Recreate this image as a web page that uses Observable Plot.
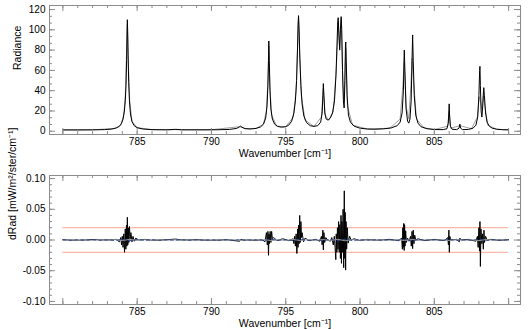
<!DOCTYPE html>
<html>
<head>
<meta charset="utf-8">
<script src="https://cdn.jsdelivr.net/npm/d3@7"></script>
<script src="https://cdn.jsdelivr.net/npm/@observablehq/plot@0.6"></script>
<style>
  html, body { margin: 0; padding: 0; background: #fff; }
  #wrap { position: relative; width: 529px; height: 330px; overflow: hidden; }
  #wrap > div, #wrap > svg { position: absolute; left: 0; }
</style>
</head>
<body>
<div id="wrap"></div>
<script>
// ---------- data: top panel (radiance spectrum, black) ----------
const radWn = [780.0,781.0,782.0,782.8,783.3,783.6,783.8,783.95,784.05,784.14,784.2,784.25,784.29,784.32,784.34,784.36,784.39,784.43,784.48,784.55,784.65,784.8,785.0,785.4,786.0,787.0,787.6,788.0,788.5,789.5,790.5,791.2,791.7,791.9,791.96,792.05,792.25,792.6,793.0,793.3,793.5,793.65,793.74,793.8,793.84,793.86,793.89,793.94,794.0,794.1,794.25,794.45,794.7,795.0,795.2,795.4,795.55,795.65,795.73,795.79,795.83,795.86,795.9,795.95,796.02,796.1,796.22,796.4,796.65,796.9,797.15,797.35,797.45,797.5,797.53,797.57,797.63,797.72,797.85,798.0,798.15,798.28,798.38,798.45,798.5,798.53,798.58,798.63,798.68,798.73,798.77,798.82,798.88,798.93,798.98,799.02,799.04,799.07,799.13,799.22,799.35,799.6,800.0,800.5,801.0,801.6,802.1,802.5,802.7,802.83,802.92,802.96,802.98,803.02,803.1,803.2,803.28,803.36,803.44,803.5,803.54,803.58,803.65,803.75,803.9,804.1,804.5,805.0,805.6,805.85,805.94,805.98,806.0,806.03,806.08,806.2,806.5,806.66,806.72,806.77,806.9,807.3,807.6,807.8,807.92,808.0,808.05,808.07,808.1,808.15,808.2,808.26,808.31,808.33,808.37,808.45,808.55,808.7,808.9,809.2,809.6,810.0];
const radVal = [1.3,1.3,1.4,1.6,2.2,3.3,4.8,7.8,12,20,30,45,70,98,110,100,75,48,30,17,9.5,5.5,3.5,2.2,1.6,1.4,1.9,1.4,1.4,1.4,1.5,1.8,2.8,4.5,5.0,4.0,2.6,2.2,2.8,4.2,7,13,25,45,70,89,70,40,22,12,7,4.8,4.0,4.5,6,10,18,30,50,80,105,114,100,72,45,27,15,8.5,5.5,4.8,5.5,9,18,35,47,35,18,12,11,13,18,30,55,85,108,112,95,80,100,113,100,60,30,23,50,85,88,70,35,16,9,5,3.0,2.2,2.0,2.4,3.3,5.5,9,18,40,70,80,60,22,10,8,12,30,70,95,70,35,16,8,4.5,2.5,1.7,1.6,2.5,8,20,27,15,5,2.0,1.6,3,7,3,1.6,1.8,3,6,14,35,60,64,45,20,14,25,40,43,35,18,9,5,3,2,1.5,1.4];

// ---------- top panel (second spectrum, gray) ----------
const refWn = [780,782,783.5,783.9,784.1,784.2,784.28,784.34,784.4,784.5,784.65,785,786,790,791.9,792.3,793,793.5,793.7,793.8,793.86,793.93,794.05,794.4,795,795.5,795.7,795.8,795.86,795.93,796.05,796.3,796.9,797.4,797.53,797.65,797.9,798.2,798.4,798.53,798.63,798.73,798.85,798.93,799.04,799.15,799.5,800.5,802,802.7,802.88,802.98,803.1,803.28,803.42,803.5,803.6,803.8,804.3,805,805.9,806.0,806.1,806.72,807.5,807.9,808.02,808.12,808.2,808.3,808.4,808.6,809.2,810];
const refVal = [1.3,1.4,2.8,6,16,35,75,106,70,30,10,3.5,1.6,1.5,4.5,2.6,2.8,7,20,50,84,45,16,5,4.5,14,40,85,112,80,35,11,4.8,14,42,16,11,20,60,108,82,110,45,28,82,25,6,2.2,3,12,45,68,25,12,45,72,50,12,3.5,1.7,5,20,3,5.5,2.5,14,34,28,22,35,25,6,2,1.4];

// ---------- bottom panel (difference, black) ----------
const dWn = [780,781,782,783,783.6,783.8,783.9,783.95,784.0,784.05,784.1,784.15,784.2,784.24,784.28,784.31,784.34,784.37,784.4,784.44,784.48,784.53,784.58,784.65,784.72,784.8,784.9,785.1,785.5,786,787,787.6,788,789,790,791,791.9,792.0,792.1,792.5,793,793.4,793.6,793.7,793.76,793.8,793.84,793.87,793.9,793.95,794.0,794.05,794.1,794.2,794.4,794.8,795.2,795.5,795.55,795.6,795.65,795.7,795.75,795.8,795.83,795.86,795.9,795.94,795.98,796.02,796.06,796.1,796.2,796.3,796.6,797.0,797.3,797.4,797.45,797.5,797.53,797.57,797.62,797.7,797.8,798.0,798.1,798.2,798.27,798.32,798.37,798.4,798.44,798.48,798.52,798.56,798.6,798.64,798.68,798.72,798.75,798.78,798.82,798.86,798.9,798.94,798.97,799.0,799.03,799.06,799.1,799.14,799.2,799.3,799.4,799.6,800,800.5,801,802,802.6,802.8,802.85,802.88,802.91,802.94,802.97,803.0,803.03,803.07,803.12,803.2,803.3,803.4,803.45,803.5,803.54,803.58,803.63,803.68,803.75,803.9,804.3,805,805.7,805.9,805.95,805.98,806.01,806.04,806.1,806.5,806.68,806.72,806.8,807.3,807.8,807.9,807.95,808.0,808.04,808.07,808.1,808.14,808.2,808.25,808.3,808.34,808.38,808.45,808.55,808.8,809.3,810];
const dVal = [0.0005,-0.0005,0.0008,0,0.001,-0.003,0.004,-0.008,0.006,-0.012,0.01,-0.02,0.018,-0.015,0.024,-0.01,0.037,-0.008,0.02,-0.004,0.022,0.002,0.012,-0.003,0.006,-0.002,0.003,0.0,0.001,-0.0005,0.0005,0.0015,0,0.0005,-0.0005,0.0005,-0.002,0.0015,-0.001,0.0005,-0.001,0.001,-0.003,0.012,-0.008,0.014,-0.025,0.01,-0.006,0.014,-0.004,0.014,0.002,0.004,-0.001,0.002,-0.001,0.002,-0.006,0.006,-0.01,0.01,-0.022,0.018,-0.012,0.024,-0.006,0.04,-0.004,0.03,0.004,0.012,-0.003,0.003,-0.001,0.001,-0.002,0.006,-0.008,0.016,-0.016,0.012,-0.004,0.004,0.0,-0.002,0.004,-0.008,0.006,-0.012,-0.032,0.01,-0.02,0.02,-0.015,0.03,-0.02,0.025,-0.03,0.04,-0.038,0.03,-0.02,0.05,-0.045,0.08,-0.03,0.045,-0.049,0.03,-0.015,0.02,-0.005,0.006,0.0,0.002,-0.001,0.001,-0.0005,0.001,-0.001,0.003,-0.015,0.02,-0.012,0.027,-0.017,0.025,-0.01,0.015,-0.004,0.003,-0.002,0.006,-0.01,0.014,-0.014,0.016,-0.006,0.008,0.0,0.002,-0.001,0.001,-0.001,0.004,-0.008,0.016,-0.02,0.006,0.0,0.001,-0.003,0.003,0,0.001,-0.002,0.006,-0.012,0.02,-0.018,0.03,-0.043,0.018,-0.006,0.01,-0.015,0.016,-0.004,0.006,0.0,0.001,-0.0005,0.0005];

// ---------- bottom panel (noise estimate, blue and gray) ----------
const nWn = [780,780.5,781,781.5,782,782.5,783,783.5,784,784.5,785,785.5,786,786.5,787,787.5,788,788.5,789,789.5,790,790.5,791,791.5,792,792.5,793,793.5,794,794.5,795,795.5,796,796.5,797,797.5,798,798.5,799,799.5,800,800.5,801,801.5,802,802.5,803,803.5,804,804.5,805,805.5,806,806.5,807,807.5,808,808.5,809,809.5,810];
const blueVal = [0.0004,-0.0006,0.0005,-0.0004,0.0006,-0.0005,0.0003,-0.0008,0.001,-0.0012,0.0006,-0.0004,0.0005,-0.0006,0.0004,-0.0003,0.0005,-0.0005,0.0004,-0.0004,0.0003,-0.0005,0.0004,-0.0006,0.0008,-0.0004,0.0005,-0.0008,0.0012,-0.0006,0.0005,-0.001,0.0012,-0.0008,0.0006,-0.0009,0.001,-0.0014,0.0015,-0.0008,0.0005,-0.0004,0.0005,-0.0005,0.0006,-0.0006,0.001,-0.0012,0.0008,-0.0004,0.0005,-0.0006,0.0009,-0.0005,0.0004,-0.0005,0.0011,-0.0009,0.0005,-0.0004,0.0003];
const grayVal = [-0.0003,0.0005,-0.0006,0.0004,-0.0005,0.0006,-0.0004,0.0007,-0.0009,0.001,-0.0005,0.0004,-0.0006,0.0005,-0.0003,0.0004,-0.0006,0.0004,-0.0005,0.0005,-0.0004,0.0006,-0.0005,0.0004,-0.0007,0.0005,-0.0004,0.0008,-0.001,0.0005,-0.0006,0.0009,-0.001,0.0007,-0.0005,0.0008,-0.001,0.0012,-0.0013,0.0007,-0.0004,0.0005,-0.0006,0.0004,-0.0005,0.0005,-0.0009,0.001,-0.0007,0.0005,-0.0004,0.0005,-0.0008,0.0006,-0.0005,0.0004,-0.001,0.0008,-0.0004,0.0005,-0.0004];

// ---------- limits and ticks ----------
const limitLevels = [0.02, -0.02];
const xTickLabels = [785, 790, 795, 800, 805];
const xMajorTicks = [780, 785, 790, 795, 800, 805, 810];
const xMinorTicks = d3.range(780, 811, 1);
const yTopMajor = [0, 20, 40, 60, 80, 100, 120];
const yTopMinor = d3.range(0, 121, 20 / 3);
const yBotMajor = [-0.10, -0.05, 0.00, 0.05, 0.10];
const yBotMinor = d3.range(-10, 11, 1).map(k => k / 100);

const topLabelY = "Radiance";
const botLabelY = "dRad [mW/m²/ster/cm⁻¹]";
const labelX = "Wavenumber [cm⁻¹]";

// ---------- build ----------
const toRows = (xs, ys) => xs.map((x, i) => ({x, y: ys[i]}));
const topBlack = toRows(radWn, radVal);
const topGray = toRows(refWn, refVal);
const botBlack = toRows(dWn, dVal);
const botBlue = toRows(nWn, blueVal);
const botGray = toRows(nWn, grayVal);

const W = 529, ML = 49, MR = 9;
const PW = W - ML - MR;
const boxColor = "#8c8c8c";
const font = "'Liberation Sans', Arial, Helvetica, sans-serif";
const xDomain = [779.1, 810.8];

function tickMarks(major, minor, xMaj, xMin, ph) {
  return [
    Plot.tickY(minor, {y: d => d, insetRight: PW - 3, stroke: boxColor}),
    Plot.tickY(minor, {y: d => d, insetLeft: PW - 3, stroke: boxColor}),
    Plot.tickY(major, {y: d => d, insetRight: PW - 6, stroke: boxColor}),
    Plot.tickY(major, {y: d => d, insetLeft: PW - 6, stroke: boxColor}),
    Plot.tickX(xMin, {x: d => d, insetTop: ph - 3, stroke: boxColor}),
    Plot.tickX(xMin, {x: d => d, insetBottom: ph - 3, stroke: boxColor}),
    Plot.tickX(xMaj, {x: d => d, insetTop: ph - 6, stroke: boxColor}),
    Plot.tickX(xMaj, {x: d => d, insetBottom: ph - 6, stroke: boxColor}),
  ];
}

const H1 = 165, MT1 = 5, MB1 = 31;
const topChart = Plot.plot({
  width: W, height: H1,
  marginLeft: ML, marginRight: MR, marginTop: MT1, marginBottom: MB1,
  x: {domain: xDomain},
  y: {domain: [-3.2, 124]},
  style: {fontFamily: font, fontSize: "10px", color: "#000", background: "transparent", overflow: "visible"},
  marks: [
    Plot.line(topGray, {x: "x", y: "y", stroke: "#a0a0a0", strokeWidth: 1}),
    Plot.line(topBlack, {x: "x", y: "y", stroke: "#000", strokeWidth: 1}),
    ...tickMarks(yTopMajor, yTopMinor, xMajorTicks, xMinorTicks, H1 - MT1 - MB1),
    Plot.frame({stroke: boxColor}),
    Plot.axisY({ticks: yTopMajor, tickSize: 0, tickPadding: 4, label: null, tickFormat: d => String(d)}),
    Plot.axisX({ticks: xTickLabels, tickSize: 0, tickPadding: 3, label: null, tickFormat: d => String(d)}),
    Plot.text([topLabelY], {frameAnchor: "left", rotate: -90, dx: -32, fontSize: 10.5}),
    Plot.text([labelX], {frameAnchor: "bottom", dy: 22, fontSize: 10.5}),
  ]
});

const H2 = 165, MT2 = 10, MB2 = 26;
const botChart = Plot.plot({
  width: W, height: H2,
  marginLeft: ML, marginRight: MR, marginTop: MT2, marginBottom: MB2,
  x: {domain: xDomain},
  y: {domain: [-0.105, 0.105]},
  style: {fontFamily: font, fontSize: "10px", color: "#000", background: "transparent", overflow: "visible"},
  marks: [
    Plot.ruleY(limitLevels, {y: d => d, x1: () => dWn[0], x2: () => dWn[dWn.length - 1], stroke: "#f6a594", strokeWidth: 1}),
    Plot.line(botBlack, {x: "x", y: "y", stroke: "#000", strokeWidth: 1}),
    Plot.line(botGray, {x: "x", y: "y", stroke: "#9a9a9a", strokeWidth: 1}),
    Plot.line(botBlue, {x: "x", y: "y", stroke: "#2c4a96", strokeWidth: 1, strokeDasharray: "3,3"}),
    ...tickMarks(yBotMajor, yBotMinor, xMajorTicks, xMinorTicks, H2 - MT2 - MB2),
    Plot.frame({stroke: boxColor}),
    Plot.axisY({ticks: yBotMajor, tickSize: 0, tickPadding: 4, label: null, tickFormat: d => d3.format(".2f")(d).replace("−", "-")}),
    Plot.axisX({ticks: xTickLabels, tickSize: 0, tickPadding: 3, label: null, tickFormat: d => String(d)}),
    Plot.text([botLabelY], {frameAnchor: "left", rotate: -90, dx: -37, fontSize: 10.5}),
    Plot.text([labelX], {frameAnchor: "bottom", dy: 22, fontSize: 10.5}),
  ]
});

const wrap = document.getElementById("wrap");
topChart.style.top = "0px";
botChart.style.top = H1 + "px";
wrap.appendChild(topChart);
wrap.appendChild(botChart);
</script>
</body>
</html>
